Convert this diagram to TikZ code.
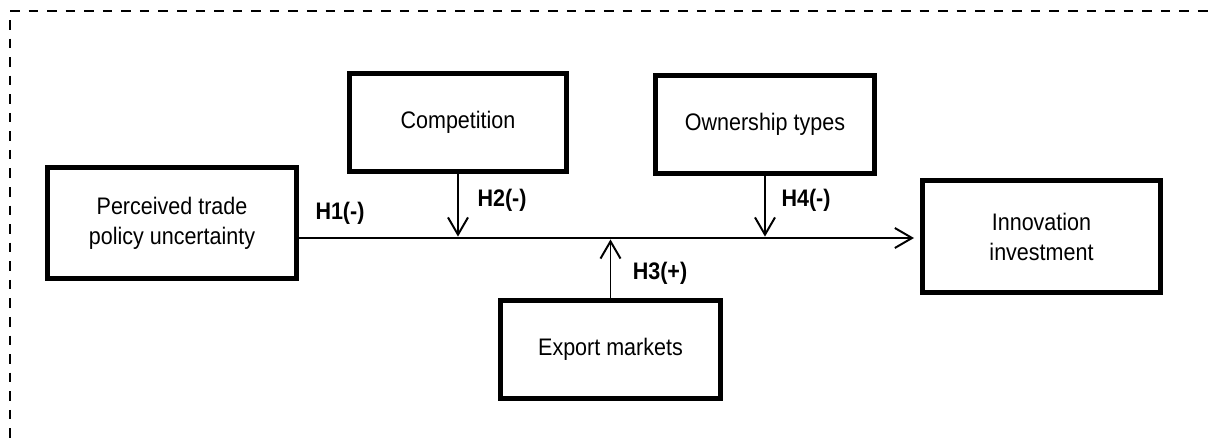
\documentclass[tikz,border=0pt]{standalone}
\usepackage{fontspec}
\setmainfont{Liberation Sans}[FakeStretch=0.9]
\usetikzlibrary{arrows.meta}

\begin{document}
\begin{tikzpicture}[x=0.025cm, y=-0.025cm,
  boxnode/.style={rectangle, draw=black, line width=3.5pt, align=center, inner sep=0pt, font=\fontsize{17}{21.3}\selectfont},
  hlabel/.style={inner sep=0pt, font=\fontsize{17}{20}\selectfont\bfseries}]
  \useasboundingbox (0,0) rectangle (1213,441);
  % frame (only top and left sides are in view)
  \draw[line width=1.9pt, dash pattern=on 6.8pt off 6.4pt] (10,11) -- (1213,11);
  \draw[line width=1.9pt, dash pattern=on 6.8pt off 6.4pt] (10,20) -- (10,441);

  \node[boxnode, minimum width=6.225cm, minimum height=2.775cm] (P) at (172,223) {Perceived trade\\policy uncertainty};
  \node[boxnode, minimum width=5.425cm, minimum height=2.45cm] (C) at (458,122.5) {Competition};
  \node[boxnode, minimum width=5.475cm, minimum height=2.45cm] (O) at (765,124.5) {Ownership types};
  \node[boxnode, minimum width=5.95cm, minimum height=2.8cm] (I) at (1041.5,236.5) {Innovation\\investment};
  \node[boxnode, minimum width=5.5cm, minimum height=2.45cm] (E) at (610.5,349.5) {Export markets};

  \coordinate (J2) at (458,238);
  \coordinate (J3) at (610.5,238);
  \coordinate (J4) at (765,238);

  \tikzset{conn/.style={line width=1.4pt, -{Straight Barb[length=4.3mm, width=5mm]}}}

  \draw[conn, shorten >=1.5mm] (P.east |- J2) -- (I.west |- J2);
  \draw[conn, shorten >=1pt] (C) -- (J2);
  \draw[conn, shorten >=1pt] (O) -- (J4);
  \draw[conn, shorten >=1pt] (E) -- (J3);

  \node[hlabel] (h1) at (340,213) {H1(-)};
  \node[hlabel] (h2) at (502,200) {H2(-)};
  \node[hlabel] (h3) at (660,273) {H3(+)};
  \node[hlabel] (h4) at (806,200) {H4(-)};
\end{tikzpicture}
\end{document}
